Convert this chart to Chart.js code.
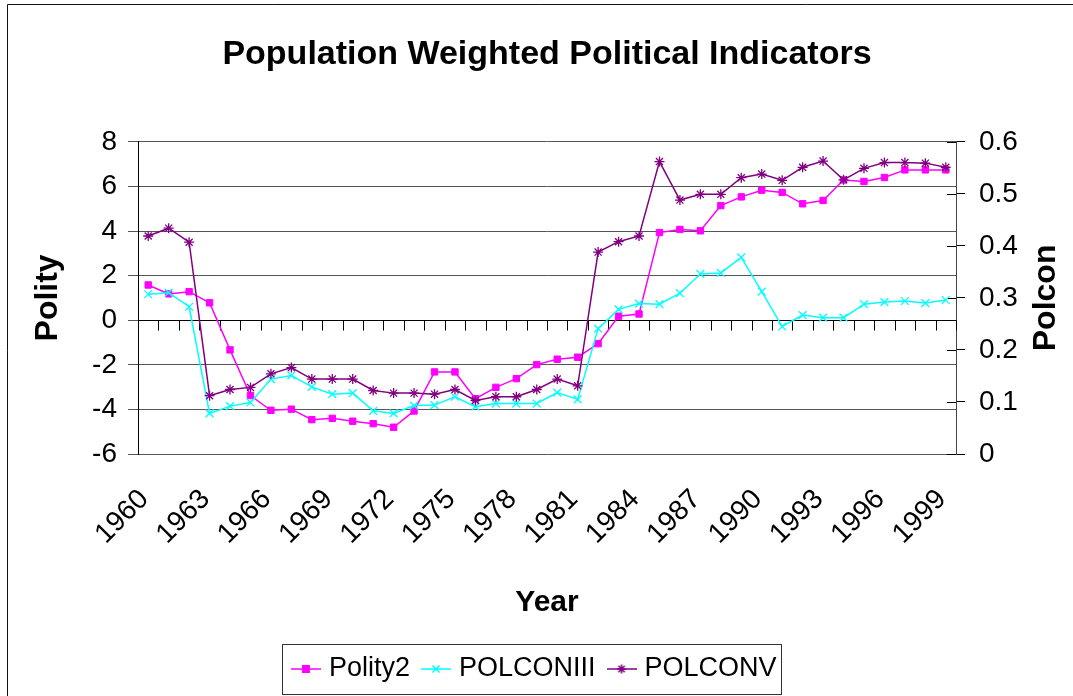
<!DOCTYPE html>
<html>
<head>
<meta charset="utf-8">
<title>Population Weighted Political Indicators</title>
<script src="https://cdn.jsdelivr.net/npm/chart.js"></script>
<style>
  html, body { margin: 0; padding: 0; background: #fff; }
  #chart { display: block; }
</style>
</head>
<body>
<canvas id="chart" width="1073" height="696"></canvas>
<script>
// Chart data
const years = [
  "1960", "1961", "1962", "1963", "1964", "1965", "1966", "1967", "1968", "1969",
  "1970", "1971", "1972", "1973", "1974", "1975", "1976", "1977", "1978", "1979",
  "1980", "1981", "1982", "1983", "1984", "1985", "1986", "1987", "1988", "1989",
  "1990", "1991", "1992", "1993", "1994", "1995", "1996", "1997", "1998", "1999"
];

// left axis (Polity)
const polity2 = [
  1.58, 1.18, 1.28, 0.78, -1.33, -3.38, -4.04, -3.99, -4.46, -4.40,
  -4.53, -4.64, -4.80, -4.07, -2.32, -2.32, -3.52, -3.01, -2.62, -1.99,
  -1.75, -1.66, -1.05, 0.18, 0.28, 3.93, 4.07, 4.01, 5.14, 5.53,
  5.83, 5.73, 5.22, 5.37, 6.29, 6.22, 6.40, 6.74, 6.74, 6.74
];

// right axis (Polcon)
const polconIII = [
  0.307, 0.310, 0.283, 0.078, 0.092, 0.099, 0.144, 0.151, 0.129, 0.115,
  0.117, 0.083, 0.078, 0.093, 0.094, 0.110, 0.091, 0.097, 0.097, 0.097,
  0.118, 0.105, 0.241, 0.278, 0.289, 0.288, 0.309, 0.346, 0.348, 0.378,
  0.312, 0.245, 0.267, 0.262, 0.262, 0.288, 0.292, 0.294, 0.290, 0.296
];

const polconV = [
  0.419, 0.434, 0.407, 0.112, 0.124, 0.128, 0.154, 0.166, 0.144, 0.144,
  0.144, 0.122, 0.117, 0.117, 0.115, 0.124, 0.103, 0.110, 0.110, 0.124,
  0.144, 0.131, 0.388, 0.408, 0.419, 0.562, 0.488, 0.499, 0.499, 0.531,
  0.538, 0.526, 0.551, 0.563, 0.527, 0.549, 0.560, 0.560, 0.559, 0.551
];

const seriesNames = ["Polity2", "POLCONIII", "POLCONV"];
const seriesColors = ["#ff00ff", "#00ffff", "#800080"];
const rightTitle = "Polcon";

const FONT = "'Liberation Sans', Arial, sans-serif";

// small line + marker pictures for the legend, like the spreadsheet legend
function makeLegendIcon(color, style, radius) {
  const c = document.createElement("canvas");
  c.width = 30;
  c.height = 14;
  const ctx = c.getContext("2d");
  ctx.strokeStyle = color;
  ctx.fillStyle = color;
  ctx.lineWidth = 1.5;
  ctx.beginPath();
  ctx.moveTo(0, 7);
  ctx.lineTo(30, 7);
  ctx.stroke();
  Chart.helpers.drawPoint(ctx, { pointStyle: style, radius: radius, borderWidth: 1.2, rotation: 0 }, 15, 7);
  return c;
}

const legendIcons = [
  makeLegendIcon(seriesColors[0], "rect", 4.5),
  makeLegendIcon(seriesColors[1], "crossRot", 5),
  makeLegendIcon(seriesColors[2], "star", 4.5),
];

// zero line ticks, inner ticks of the right axis, right title, outer frame and legend box
const decorations = {
  id: "decorations",
  beforeDatasetsDraw(chart) {
    const ctx = chart.ctx;
    const x = chart.scales.x;
    const y = chart.scales.y;
    const y1 = chart.scales.y1;
    const step = x.getPixelForValue(1) - x.getPixelForValue(0);
    const y0 = Math.round(y.getPixelForValue(0)) + 0.5;
    ctx.save();
    ctx.strokeStyle = "#000";
    ctx.lineWidth = 1;
    ctx.beginPath();
    ctx.moveTo(chart.chartArea.left, y0);
    ctx.lineTo(chart.chartArea.right, y0);
    for (let i = 0; i <= years.length; i++) {
      const px = Math.round(x.getPixelForValue(0) - step / 2 + i * step) + 0.5;
      ctx.moveTo(px, y0);
      ctx.lineTo(px, y0 + 10);
    }
    y1.ticks.forEach((t) => {
      const py = Math.round(y1.getPixelForValue(t.value)) + 0.5;
      ctx.moveTo(y1.left - 9, py);
      ctx.lineTo(y1.left, py);
    });
    ctx.stroke();
    ctx.restore();
  },
  afterDraw(chart) {
    const ctx = chart.ctx;
    const y1 = chart.scales.y1;
    ctx.save();

    // right axis title reads bottom to top, as on the left
    ctx.translate(y1.right - 19, (chart.chartArea.top + chart.chartArea.bottom) / 2);
    ctx.rotate(-Math.PI / 2);
    ctx.fillStyle = "#000";
    ctx.font = "bold 32px " + FONT;
    ctx.textAlign = "center";
    ctx.textBaseline = "middle";
    ctx.fillText(rightTitle, 0, 0);
    ctx.setTransform(1, 0, 0, 1, 0, 0);

    ctx.strokeStyle = "#111";
    ctx.lineWidth = 1;
    ctx.beginPath();
    ctx.moveTo(7.5, chart.height);
    ctx.lineTo(7.5, 4.5);
    ctx.lineTo(chart.width, 4.5);
    ctx.stroke();

    const boxes = chart.legend.legendHitBoxes;
    if (boxes && boxes.length) {
      const left = Math.min(...boxes.map((b) => b.left)) - 14.5;
      const right = Math.max(...boxes.map((b) => b.left + b.width)) + 4;
      const top = boxes[0].top - 11.5;
      const bottom = boxes[0].top + boxes[0].height + 11.5;
      ctx.strokeStyle = "#333";
      ctx.strokeRect(Math.round(left) + 0.5, Math.round(top) + 0.5, Math.round(right - left), Math.round(bottom - top));
    }
    ctx.restore();
  },
};

const ctx = document.getElementById("chart").getContext("2d");
new Chart(ctx, {
  type: "line",
  data: {
    labels: years,
    datasets: [
      {
        label: seriesNames[0],
        data: polity2,
        yAxisID: "y",
        borderColor: seriesColors[0],
        backgroundColor: seriesColors[0],
        borderWidth: 1.5,
        pointStyle: "rect",
        pointRadius: 4.5,
        pointBorderWidth: 1,
        order: 3,
      },
      {
        label: seriesNames[1],
        data: polconIII,
        yAxisID: "y1",
        borderColor: seriesColors[1],
        backgroundColor: seriesColors[1],
        borderWidth: 1.5,
        pointStyle: "crossRot",
        pointRadius: 5.5,
        pointBorderWidth: 1.3,
        order: 2,
      },
      {
        label: seriesNames[2],
        data: polconV,
        yAxisID: "y1",
        borderColor: seriesColors[2],
        backgroundColor: seriesColors[2],
        borderWidth: 1.5,
        pointStyle: "star",
        pointRadius: 5,
        pointBorderWidth: 1.3,
        order: 1,
      },
    ],
  },
  options: {
    responsive: false,
    animation: false,
    devicePixelRatio: 1,
    layout: { padding: { left: 8, right: 8, top: 0, bottom: 3.5 } },
    elements: { line: { tension: 0 } },
    plugins: {
      title: {
        display: true,
        text: "Population Weighted Political Indicators",
        color: "#000",
        fullSize: false,
        font: { family: FONT, size: 34, weight: "bold" },
        padding: { top: 34, bottom: 67 },
      },
      legend: {
        position: "bottom",
        labels: {
          color: "#000",
          font: { family: FONT, size: 27 },
          usePointStyle: true,
          pointStyleWidth: 19,
          boxWidth: 19,
          padding: 16.5,
          generateLabels: (chart) =>
            chart.data.datasets.map((ds, i) => ({
              text: ds.label,
              pointStyle: legendIcons[i],
              fillStyle: "transparent",
              strokeStyle: "transparent",
              lineWidth: 0,
              fontColor: "#000",
              hidden: false,
              datasetIndex: i,
            })),
        },
      },
      tooltip: { enabled: false },
    },
    scales: {
      x: {
        type: "category",
        offset: true,
        grid: { display: false, drawTicks: false },
        border: { display: false },
        ticks: {
          color: "#000",
          font: { family: FONT, size: 28 },
          autoSkip: false,
          minRotation: 45,
          maxRotation: 45,
          padding: 29,
          labelOffset: -4,
          callback: function (value, index) {
            return index % 3 === 0 ? this.getLabelForValue(value) : "";
          },
        },
        title: {
          display: true,
          text: "Year",
          color: "#000",
          font: { family: FONT, size: 30, weight: "bold" },
          padding: { top: 0, bottom: 18 },
        },
        afterFit: (scale) => { scale.height = 185; },
      },
      y: {
        position: "left",
        min: -6,
        max: 8,
        ticks: {
          stepSize: 2,
          color: "#000",
          font: { family: FONT, size: 28 },
          padding: 11,
        },
        grid: {
          color: "#555",
          tickLength: 10,
          tickColor: "#555",
        },
        border: { display: true, color: "#000", width: 1 },
        title: {
          display: true,
          text: "Polity",
          color: "#000",
          font: { family: FONT, size: 32, weight: "bold" },
          padding: { top: 21, bottom: 0 },
        },
        afterFit: (scale) => { scale.width = 130; },
      },
      y1: {
        position: "right",
        min: 0,
        max: 0.6,
        ticks: {
          stepSize: 0.1,
          color: "#000",
          font: { family: FONT, size: 28 },
          padding: 14,
        },
        grid: {
          drawOnChartArea: false,
          tickLength: 9,
          tickColor: "#000",
        },
        border: { display: true, color: "#444", width: 1 },
        title: { display: false },
        afterFit: (scale) => { scale.width = 109; },
      },
    },
  },
  plugins: [decorations],
});
</script>
</body>
</html>
